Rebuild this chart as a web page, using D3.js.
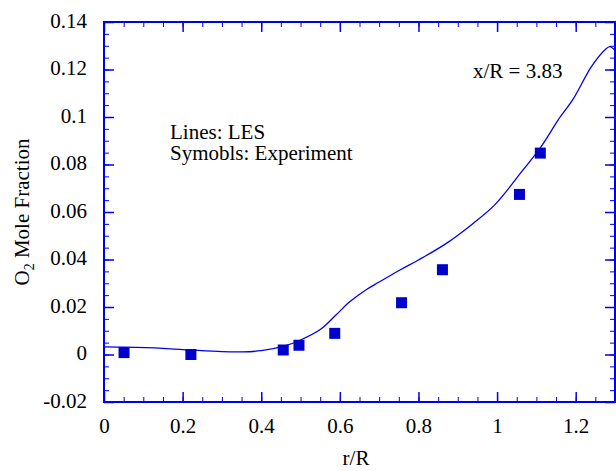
<!DOCTYPE html>
<html>
<head>
<meta charset="utf-8">
<script src="https://cdn.jsdelivr.net/npm/d3@7"></script>
<style>
  body { margin: 0; background: #fff; }
</style>
</head>
<body>
<div id="chart"></div>
<script>
// LES line (r/R, O2 mole fraction)
const lesR = [0, 0.05, 0.15, 0.22, 0.3, 0.35, 0.4, 0.46, 0.5, 0.55, 0.59, 0.625, 0.668, 0.7, 0.753, 0.8, 0.871, 0.939, 0.994, 1.066, 1.109, 1.134, 1.155, 1.193, 1.24, 1.274, 1.287, 1.3];
const lesO2 = [0.0032, 0.0031, 0.0026, 0.0019, 0.0012, 0.0011, 0.0016, 0.0036, 0.0061, 0.0105, 0.0166, 0.0222, 0.0274, 0.0305, 0.0356, 0.0398, 0.0468, 0.0552, 0.063, 0.0777, 0.0868, 0.0931, 0.0987, 0.1074, 0.1212, 0.1282, 0.1296, 0.128];

// Experiment symbols
const expR = [0.051, 0.221, 0.456, 0.496, 0.587, 0.757, 0.861, 1.057, 1.110];
const expO2 = [0.0008, 0.0000, 0.0019, 0.0039, 0.0089, 0.0218, 0.0357, 0.0674, 0.0848];

const xTicks = [0, 0.2, 0.4, 0.6, 0.8, 1, 1.2];
const yTicks = [-0.02, 0, 0.02, 0.04, 0.06, 0.08, 0.1, 0.12, 0.14];

const svgWidth = 616;
const svgHeight = 471;
const margin = { top: 22, right: 1, bottom: 69, left: 104 };
const width = svgWidth - margin.left - margin.right;
const height = svgHeight - margin.top - margin.bottom;
const blue = "#0000ee";
const font = '"Liberation Serif"';
const fontSize = 21;

const svg = d3.select("#chart").append("svg")
  .attr("width", svgWidth)
  .attr("height", svgHeight);

const chart = svg.append("g")
  .attr("transform", `translate(${margin.left},${margin.top})`);

const xScale = d3.scaleLinear().domain([0, 1.3]).range([0, width]);
const yScale = d3.scaleLinear().domain([-0.02, 0.14]).range([height, 0]);

const xMinor = d3.range(0, 1.3001, 0.05);
const yMinor = d3.range(-0.02, 0.14001, 0.005);

// ticks on all four sides, pointing inward
function ticks(axis, values, size) {
  return axis.tickValues(values).tickSize(size).tickFormat("");
}
[[d3.axisBottom(xScale), `translate(0,${height})`, -5, xMinor],
 [d3.axisTop(xScale), "translate(0,0)", -5, xMinor],
 [d3.axisLeft(yScale), "translate(0,0)", -5, yMinor],
 [d3.axisRight(yScale), `translate(${width},0)`, -5, yMinor],
 [d3.axisBottom(xScale), `translate(0,${height})`, -10, xTicks],
 [d3.axisTop(xScale), "translate(0,0)", -10, xTicks],
 [d3.axisLeft(yScale), "translate(0,0)", -10, yTicks],
 [d3.axisRight(yScale), `translate(${width},0)`, -10, yTicks]
].forEach(([axis, tr, size, vals]) => {
  const g = chart.append("g").attr("transform", tr).call(ticks(axis, vals, size));
  g.select(".domain").remove();
  g.selectAll("line").attr("stroke", blue).attr("stroke-width", size === -10 ? 1.5 : 1);
});

// tick labels (plain hyphen for negatives, like the original)
const plain = (d) => String(d);

chart.append("g")
  .attr("transform", `translate(0,${height})`)
  .call(d3.axisBottom(xScale).tickValues(xTicks).tickSize(0).tickPadding(16).tickFormat(plain))
  .call(g => g.select(".domain").remove())
  .attr("font-family", null)
  .selectAll("text")
  .attr("fill", "#000")
  .attr("font-size", fontSize);

chart.append("g")
  .call(d3.axisLeft(yScale).tickValues(yTicks).tickSize(0).tickPadding(17).tickFormat(plain))
  .call(g => g.select(".domain").remove())
  .attr("font-family", null)
  .selectAll("text")
  .attr("fill", "#000")
  .attr("dy", "0.24em")
  .attr("font-size", fontSize);

// frame
chart.append("rect")
  .attr("width", width)
  .attr("height", height)
  .attr("fill", "none")
  .attr("stroke", blue)
  .attr("stroke-width", 2);

// LES line
chart.append("clipPath").attr("id", "clip")
  .append("rect").attr("width", width).attr("height", height);

const line = d3.line()
  .x((d, i) => xScale(lesR[i]))
  .y((d) => yScale(d))
  .curve(d3.curveCatmullRom);

chart.append("path")
  .datum(lesO2)
  .attr("clip-path", "url(#clip)")
  .attr("fill", "none")
  .attr("stroke", blue)
  .attr("stroke-width", 1.3)
  .attr("d", line);

// experiment symbols
const sq = 11;
chart.selectAll(".exp")
  .data(expO2)
  .enter()
  .append("rect")
  .attr("class", "exp")
  .attr("x", (d, i) => xScale(expR[i]) - sq / 2)
  .attr("y", (d) => yScale(d) - sq / 2)
  .attr("width", sq)
  .attr("height", sq)
  .attr("fill", "#0000cc");

// annotations
svg.append("text").attr("x", 170).attr("y", 139).attr("font-size", fontSize).text("Lines: LES");
svg.append("text").attr("x", 170).attr("y", 160).attr("font-size", fontSize).text("Symobls: Experiment");
svg.append("text").attr("x", 473).attr("y", 78).attr("font-size", fontSize).text("x/R = 3.83");

// axis titles
svg.append("text")
  .attr("x", 356).attr("y", 465)
  .attr("text-anchor", "middle")
  .attr("font-size", fontSize)
  .text("r/R");

const yTitle = svg.append("text")
  .attr("transform", `translate(29,${margin.top + height / 2}) rotate(-90)`)
  .attr("text-anchor", "middle")
  .attr("font-size", fontSize);
yTitle.append("tspan").text("O");
yTitle.append("tspan").attr("dy", 5).attr("font-size", 14).text("2");
yTitle.append("tspan").attr("dy", -5).text(" Mole Fraction");

// serif font on every text
svg.selectAll("text").style("font-family", font);
</script>
</body>
</html>
